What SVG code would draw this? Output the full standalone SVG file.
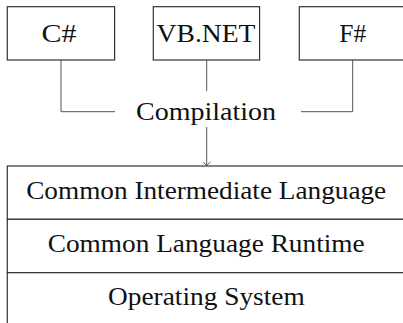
<svg xmlns="http://www.w3.org/2000/svg" width="403" height="323" viewBox="0 0 403 323">
<defs>
<style>
.box{fill:#fff;stroke:#333;stroke-width:1.2}
.conn{fill:none;stroke:#555;stroke-width:1}
.t{font-family:"Liberation Serif","Times New Roman",serif;fill:#111;text-anchor:middle;font-size:25px}
</style>
<marker id="arr" viewBox="0 0 8 8" refX="7" refY="4" markerWidth="8" markerHeight="8" markerUnits="userSpaceOnUse" orient="auto">
<path d="M3.5,0.3 L7,4 L3.5,7.7" fill="none" stroke="#555" stroke-width="1"/>
</marker>
</defs>
<rect width="403" height="323" fill="#fff"/>
<g id="connectors">
<polyline class="conn" points="61,60 61,111.7 115,111.7"/>
<polyline class="conn" points="352.7,60 352.7,111.7 301,111.7"/>
<line class="conn" x1="206.7" y1="60" x2="206.7" y2="91"/>
<line class="conn" x1="206.7" y1="127" x2="206.7" y2="165.5" marker-end="url(#arr)"/>
</g>
<g id="csharp">
<rect class="box" x="7.3" y="6.7" width="107.3" height="53.3"/>
<text class="t" x="59" y="41.5" textLength="35" lengthAdjust="spacingAndGlyphs">C#</text>
</g>
<g id="vbnet">
<rect class="box" x="153.3" y="6.7" width="106.3" height="53.3"/>
<text class="t" x="206" y="41.5" textLength="99" lengthAdjust="spacingAndGlyphs">VB.NET</text>
</g>
<g id="fsharp">
<rect class="box" x="299.3" y="6.7" width="107.3" height="53.3"/>
<text class="t" x="352.7" y="41.5" textLength="27" lengthAdjust="spacingAndGlyphs">F#</text>
</g>
<g id="compilation">
<text class="t" x="206" y="120" textLength="140" lengthAdjust="spacingAndGlyphs">Compilation</text>
</g>
<g id="cil">
<rect class="box" x="7.3" y="166" width="399" height="53.3"/>
<text class="t" x="206.2" y="198.8" textLength="360" lengthAdjust="spacingAndGlyphs">Common Intermediate Language</text>
</g>
<g id="clr">
<rect class="box" x="7.3" y="219.3" width="399" height="53.4"/>
<text class="t" x="206.2" y="251.8" textLength="317" lengthAdjust="spacingAndGlyphs">Common Language Runtime</text>
</g>
<g id="os">
<rect class="box" x="7.3" y="272.7" width="399" height="53.3"/>
<text class="t" x="206.4" y="304.8" textLength="196.7" lengthAdjust="spacingAndGlyphs">Operating System</text>
</g>
</svg>
